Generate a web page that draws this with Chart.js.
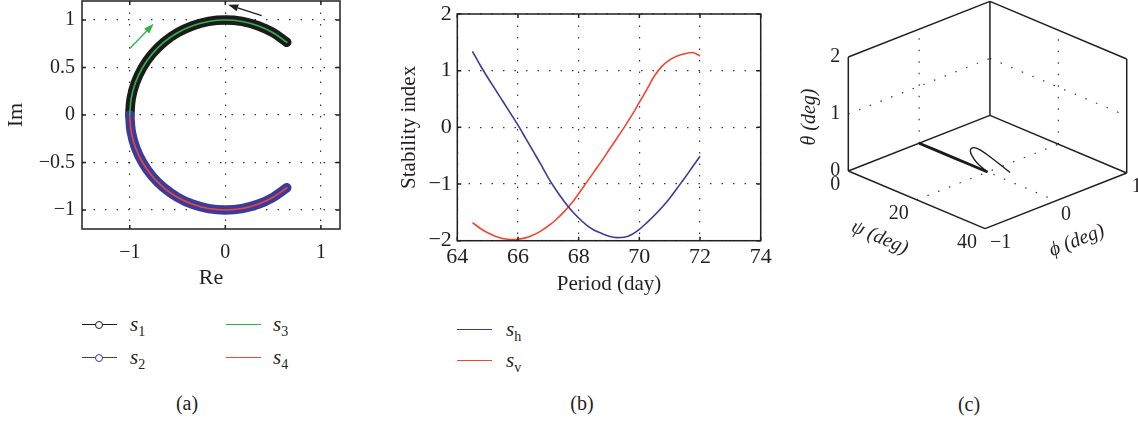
<!DOCTYPE html>
<html>
<head>
<meta charset="utf-8">
<script src="https://cdn.jsdelivr.net/npm/chart.js@4.4.1/dist/chart.umd.min.js"></script>
<style>
  body { margin: 0; background: #fff; width: 1138px; height: 421px; position: relative; overflow: hidden;
         font-family: 'Liberation Serif', 'Times New Roman', serif; color: #231f20; }
  canvas { position: absolute; top: 0; }
  .legend-item { position: absolute; height: 0; }
  .swatch { position: absolute; left: 0; top: -1px; width: 35px; height: 0; border-top: 1.5px solid; }
  .marker { position: absolute; left: 13px; top: -4.5px; width: 6px; height: 6px; border: 1.4px solid; border-radius: 50%; background: #fff; }
  .legend-label { position: absolute; top: -13px; line-height: 24px; font-size: 21px; font-style: italic; white-space: nowrap; }
  .legend-label sub { font-style: normal; font-size: 14px; vertical-align: -5px; }
  .caption { position: absolute; line-height: 24px; font-size: 20px; transform: translateX(-50%); }
</style>
</head>
<body>
<canvas id="chart-a" width="350" height="300" style="left:0"></canvas>
<canvas id="chart-b" width="400" height="300" style="left:380px"></canvas>
<canvas id="chart-c" width="348" height="300" style="left:790px"></canvas>
<div id="legends"></div>
<script>
// ===== Data: panel (a), eigenvalues on the unit circle =====
const upperArcRe = [-1, -0.985, -0.940, -0.866, -0.766, -0.643, -0.5, -0.342, -0.174, 0, 0.174, 0.342, 0.5, 0.643];
const upperArcIm = [0, 0.174, 0.342, 0.5, 0.643, 0.766, 0.866, 0.940, 0.985, 1, 0.985, 0.940, 0.866, 0.766];
const lowerArcRe = [-1, -0.985, -0.940, -0.866, -0.766, -0.643, -0.5, -0.342, -0.174, 0, 0.174, 0.342, 0.5, 0.643];
const lowerArcIm = [0, -0.174, -0.342, -0.5, -0.643, -0.766, -0.866, -0.940, -0.985, -1, -0.985, -0.940, -0.866, -0.766];
const greenArrowRe = [-1.0, -0.75];
const greenArrowIm = [0.70, 0.96];
const blackArrowRe = [0.38, 0.03];
const blackArrowIm = [1.045, 1.16];
const reTicks = [-1, 0, 1];
const reTickLabels = ['\u22121', '0', '1'];
const imTicks = [-1, -0.5, 0, 0.5, 1];
const imTickLabels = ['\u22121', '\u22120.5', '0', '0.5', '1'];

// ===== Data: panel (b), stability indices =====
const periodDays = [64.5, 64.75, 65, 65.25, 65.5, 65.75, 66, 66.25, 66.5, 66.75, 67, 67.25, 67.5, 67.75, 68, 68.25,
  68.5, 68.75, 69, 69.25, 69.5, 69.75, 70, 70.25, 70.5, 70.75, 71, 71.25, 71.5, 71.75, 72];
const stabilityH = [1.34, 1.10, 0.88, 0.67, 0.46, 0.25, 0.04, -0.19, -0.42, -0.65, -0.89, -1.10, -1.29, -1.46, -1.60, -1.72,
  -1.81, -1.87, -1.92, -1.945, -1.94, -1.89, -1.80, -1.68, -1.55, -1.41, -1.25, -1.07, -0.89, -0.70, -0.51];
const stabilityV = [-1.68, -1.78, -1.86, -1.92, -1.96, -1.98, -1.975, -1.95, -1.90, -1.83, -1.74, -1.63, -1.50, -1.35, -1.17, -0.98,
  -0.79, -0.60, -0.40, -0.20, 0.0, 0.21, 0.44, 0.67, 0.91, 1.08, 1.19, 1.26, 1.30, 1.32, 1.26];
const periodTicks = [64, 66, 68, 70, 72, 74];
const periodTickLabels = ['64', '66', '68', '70', '72', '74'];
const indexTicks = [-2, -1, 0, 1, 2];
const indexTickLabels = ['\u22122', '\u22121', '0', '1', '2'];

// ===== Data: panel (c), attitude angles =====
const pathPsi = [0, 5, 10, 15, 20];
const pathPhi = [0, 0, 0, 0, 0];
const pathTheta = [0, 0, 0, 0, 0];
const loopPsi = [20, 15.3, 11.6, 9.8, 9.2, 9.6, 11.0, 15.0, 19.2, 23.4];
const loopPhi = [0, 0.08, 0.18, 0.25, 0.30, 0.33, 0.33, 0.28, 0.22, 0.155];
const loopTheta = [0, 0, 0, 0, 0, 0, 0, 0, 0, 0];
const psiRange = [0, 40];
const phiRange = [-1, 1];
const thetaRange = [0, 2];
const psiTicks = [0, 20, 40];
const psiTickLabels = ['0', '20', '40'];
const phiTicks = [-1, 0, 1];
const phiTickLabels = ['\u22121', '0', '1'];
const thetaTicks = [0, 1, 2];
const thetaTickLabels = ['0', '1', '2'];

// ===== Styles =====
const INK = '#231f20';
const BAND_BLACK = '#1b1b1b';
const BAND_BLUE = '#3b3b9d';
const GREEN = '#33b24a';
const RED = '#f0462d';
const LINE_BLUE = '#3e3a9a';
const GRID_COLOR = '#3a3a3a';
const FONT = "'Liberation Serif', 'Times New Roman', serif";

Chart.defaults.font.family = FONT;
Chart.defaults.color = INK;

const toPoints = (xs, ys) => xs.map((x, i) => ({ x, y: ys[i] }));

function fixedTicks(values) {
  return (scale) => { scale.ticks = values.map((value) => ({ value })); };
}

function fixedSize(size) {
  return (scale) => {
    if (scale.isHorizontal()) scale.height = size; else scale.width = size;
    scale.paddingTop = 0;
    scale.paddingBottom = 0;
    scale.paddingLeft = 0;
    scale.paddingRight = 0;
  };
}

function axis(opts) {
  return {
    type: 'linear',
    min: opts.min,
    max: opts.max,
    afterBuildTicks: fixedTicks(opts.ticks),
    afterFit: fixedSize(opts.size),
    ticks: {
      callback: (value, index) => opts.labels[index],
      padding: opts.tickPadding,
      font: { size: opts.tickSize },
      maxRotation: 0,
      autoSkip: false,
    },
    grid: { color: GRID_COLOR, lineWidth: 1.2, drawTicks: false },
    border: { display: false, dash: [1.5, 10] },
    title: { display: true, text: opts.title, font: { size: opts.titleSize }, padding: opts.titlePadding },
  };
}

// box with inward ticks, drawn on top of the data
const framePlugin = {
  id: 'frame',
  afterDatasetsDraw(chart) {
    const { ctx, chartArea: { left, right, top, bottom }, scales: { x, y } } = chart;
    ctx.save();
    ctx.strokeStyle = INK;
    ctx.lineWidth = 1.5;
    ctx.beginPath();
    x.ticks.forEach((tick) => {
      const px = x.getPixelForValue(tick.value);
      ctx.moveTo(px, bottom); ctx.lineTo(px, bottom - 4);
      ctx.moveTo(px, top); ctx.lineTo(px, top + 4);
    });
    y.ticks.forEach((tick) => {
      const py = y.getPixelForValue(tick.value);
      ctx.moveTo(left, py); ctx.lineTo(left + 4, py);
      ctx.moveTo(right, py); ctx.lineTo(right - 4, py);
    });
    ctx.stroke();
    ctx.strokeRect(left, top, right - left, bottom - top);
    ctx.restore();
  },
};

const arrowPlugin = {
  id: 'arrows',
  afterDatasetsDraw(chart) {
    const { ctx, scales: { x, y } } = chart;
    const drawArrow = (res, ims, color) => {
      const x0 = x.getPixelForValue(res[0]);
      const y0 = y.getPixelForValue(ims[0]);
      const x1 = x.getPixelForValue(res[1]);
      const y1 = y.getPixelForValue(ims[1]);
      const angle = Math.atan2(y1 - y0, x1 - x0);
      const headLength = 10;
      const headHalf = 3.6;
      const bx = x1 - headLength * Math.cos(angle);
      const by = y1 - headLength * Math.sin(angle);
      ctx.save();
      ctx.strokeStyle = color;
      ctx.fillStyle = color;
      ctx.lineWidth = 1.3;
      ctx.beginPath();
      ctx.moveTo(x0, y0);
      ctx.lineTo(bx, by);
      ctx.stroke();
      ctx.beginPath();
      ctx.moveTo(x1, y1);
      ctx.lineTo(bx + headHalf * Math.sin(angle), by - headHalf * Math.cos(angle));
      ctx.lineTo(bx - headHalf * Math.sin(angle), by + headHalf * Math.cos(angle));
      ctx.closePath();
      ctx.fill();
      ctx.restore();
    };
    drawArrow(greenArrowRe, greenArrowIm, GREEN);
    drawArrow(blackArrowRe, blackArrowIm, INK);
  },
};

const baseOptions = {
  responsive: false,
  animation: false,
  devicePixelRatio: 1,
  events: [],
  elements: { point: { radius: 0 }, line: { tension: 0 } },
  plugins: { legend: { display: false }, tooltip: { enabled: false } },
};

// ===== Panel (a) =====
const arcLine = { tension: 0.35, borderCapStyle: 'round', borderJoinStyle: 'round' };
new Chart(document.getElementById('chart-a'), {
  type: 'line',
  data: {
    datasets: [
      { label: 's3', data: toPoints(upperArcRe, upperArcIm), borderColor: GREEN, borderWidth: 1.6, order: 0, ...arcLine },
      { label: 's4', data: toPoints(lowerArcRe, lowerArcIm), borderColor: RED, borderWidth: 1.6, order: 1, ...arcLine },
      { label: 's2', data: toPoints(lowerArcRe, lowerArcIm), borderColor: BAND_BLUE, borderWidth: 9.5, order: 2, ...arcLine },
      { label: 's1', data: toPoints(upperArcRe, upperArcIm), borderColor: BAND_BLACK, borderWidth: 9.5, order: 3, ...arcLine },
    ],
  },
  options: {
    ...baseOptions,
    layout: { padding: { left: 0, right: 10, top: 1, bottom: 0 } },
    scales: {
      x: axis({ min: -1.5, max: 1.2, ticks: reTicks, labels: reTickLabels, size: 71, tickPadding: 12,
        tickSize: 20, title: 'Re', titleSize: 22, titlePadding: { top: 0, bottom: 9 } }),
      y: axis({ min: -1.2, max: 1.2, ticks: imTicks, labels: imTickLabels, size: 82, tickPadding: 7,
        tickSize: 20, title: 'Im', titleSize: 22, titlePadding: { top: 3, bottom: 0 } }),
    },
  },
  plugins: [framePlugin, arrowPlugin],
});

// ===== Panel (b) =====
new Chart(document.getElementById('chart-b'), {
  type: 'line',
  data: {
    datasets: [
      { label: 'sh', data: toPoints(periodDays, stabilityH), borderColor: LINE_BLUE, borderWidth: 1.6,
        cubicInterpolationMode: 'monotone' },
      { label: 'sv', data: toPoints(periodDays, stabilityV), borderColor: RED, borderWidth: 1.6,
        cubicInterpolationMode: 'monotone' },
    ],
  },
  options: {
    ...baseOptions,
    layout: { padding: { left: 0, right: 19.3, top: 14, bottom: 0 } },
    scales: {
      x: axis({ min: 64, max: 74, ticks: periodTicks, labels: periodTickLabels, size: 59.3, tickPadding: 3,
        tickSize: 22, title: 'Period (day)', titleSize: 21, titlePadding: { top: 0, bottom: 3 } }),
      y: axis({ min: -2, max: 2, ticks: indexTicks, labels: indexTickLabels, size: 77.3, tickPadding: 5.5,
        tickSize: 22, title: 'Stability index', titleSize: 21, titlePadding: { top: 17, bottom: 0 } }),
    },
  },
  plugins: [framePlugin],
});

// ===== Panel (c): orthographic 3D view =====
const VIEW_AZ = 46 * Math.PI / 180;
const VIEW_EL = 24 * Math.PI / 180;
const BOX_ASPECT = [1, 1, 0.634];

function project(psi, phi, theta) {
  const a = (psi - psiRange[0]) / (psiRange[1] - psiRange[0]) * BOX_ASPECT[0];
  const b = (phi - phiRange[0]) / (phiRange[1] - phiRange[0]) * BOX_ASPECT[1];
  const c = (theta - thetaRange[0]) / (thetaRange[1] - thetaRange[0]) * BOX_ASPECT[2];
  return {
    x: a * Math.cos(VIEW_AZ) + b * Math.sin(VIEW_AZ),
    y: (b * Math.cos(VIEW_AZ) - a * Math.sin(VIEW_AZ)) * Math.sin(VIEW_EL) + c * Math.cos(VIEW_EL),
  };
}

const project3d = (psis, phis, thetas) => psis.map((psi, i) => project(psi, phis[i], thetas[i]));

const box3dPlugin = {
  id: 'box3d',
  beforeDatasetsDraw(chart) {
    const { ctx, scales: { x, y } } = chart;
    const toPx = (psi, phi, theta) => {
      const p = project(psi, phi, theta);
      return [x.getPixelForValue(p.x), y.getPixelForValue(p.y)];
    };
    const segment = (from, to) => {
      const p0 = toPx(...from);
      const p1 = toPx(...to);
      ctx.moveTo(p0[0], p0[1]);
      ctx.lineTo(p1[0], p1[1]);
    };
    const [psiLo, psiHi] = psiRange;
    const [phiLo, phiHi] = phiRange;
    const [thLo, thHi] = thetaRange;

    ctx.save();
    // dotted grid on the floor and the two back walls
    ctx.strokeStyle = GRID_COLOR;
    ctx.lineWidth = 1.2;
    ctx.setLineDash([1.5, 10]);
    ctx.beginPath();
    psiTicks.slice(1, -1).forEach((v) => {
      segment([v, phiLo, thLo], [v, phiHi, thLo]);
      segment([v, phiHi, thLo], [v, phiHi, thHi]);
    });
    phiTicks.slice(1, -1).forEach((v) => {
      segment([psiLo, v, thLo], [psiHi, v, thLo]);
      segment([psiLo, v, thLo], [psiLo, v, thHi]);
    });
    thetaTicks.slice(1, -1).forEach((v) => {
      segment([psiLo, phiLo, v], [psiLo, phiHi, v]);
      segment([psiLo, phiHi, v], [psiHi, phiHi, v]);
    });
    ctx.stroke();

    // box edges
    ctx.setLineDash([]);
    ctx.strokeStyle = INK;
    ctx.lineWidth = 1.5;
    ctx.beginPath();
    segment([psiLo, phiLo, thLo], [psiHi, phiLo, thLo]);
    segment([psiHi, phiLo, thLo], [psiHi, phiHi, thLo]);
    segment([psiLo, phiLo, thLo], [psiLo, phiHi, thLo]);
    segment([psiLo, phiHi, thLo], [psiHi, phiHi, thLo]);
    segment([psiLo, phiLo, thLo], [psiLo, phiLo, thHi]);
    segment([psiLo, phiHi, thLo], [psiLo, phiHi, thHi]);
    segment([psiHi, phiHi, thLo], [psiHi, phiHi, thHi]);
    segment([psiLo, phiLo, thHi], [psiLo, phiHi, thHi]);
    segment([psiLo, phiHi, thHi], [psiHi, phiHi, thHi]);
    ctx.stroke();

    // tick labels
    ctx.fillStyle = INK;
    ctx.font = `20px ${FONT}`;
    ctx.textBaseline = 'middle';
    ctx.textAlign = 'right';
    thetaTicks.forEach((v, i) => {
      const [px, py] = toPx(psiLo, phiLo, v);
      ctx.fillText(thetaTickLabels[i], px - 8, py);
    });
    psiTicks.forEach((v, i) => {
      const [px, py] = toPx(v, phiLo, thLo);
      ctx.fillText(psiTickLabels[i], px - 8, py + 14);
    });
    ctx.textAlign = 'left';
    phiTicks.forEach((v, i) => {
      const [px, py] = toPx(psiHi, v, thLo);
      ctx.fillText(phiTickLabels[i], px + 5, py + 14);
    });

    // axis titles
    ctx.font = `italic 20px ${FONT}`;
    ctx.textAlign = 'center';
    const drawTitle = (text, anchor, dx, dy, angle) => {
      ctx.save();
      ctx.translate(anchor[0] + dx, anchor[1] + dy);
      ctx.rotate(angle);
      ctx.fillText(text, 0, 0);
      ctx.restore();
    };
    const psiStart = toPx(psiLo, phiLo, thLo);
    const psiEnd = toPx(psiHi, phiLo, thLo);
    const phiEnd = toPx(psiHi, phiHi, thLo);
    const psiAngle = Math.atan2(psiEnd[1] - psiStart[1], psiEnd[0] - psiStart[0]);
    const phiAngle = Math.atan2(phiEnd[1] - psiEnd[1], phiEnd[0] - psiEnd[0]);
    drawTitle('\u03b8 (deg)', toPx(psiLo, phiLo, (thLo + thHi) / 2), -39, 3, -Math.PI / 2);
    drawTitle('\u03c8 (deg)', toPx((psiLo + psiHi) / 2, phiLo, thLo), -37, 38, psiAngle);
    drawTitle('\u03d5 (deg)', toPx(psiHi, (phiLo + phiHi) / 2, thLo), 21, 40, phiAngle);
    ctx.restore();
  },
};

new Chart(document.getElementById('chart-c'), {
  type: 'scatter',
  data: {
    datasets: [
      { data: project3d(pathPsi, pathPhi, pathTheta), showLine: true, borderColor: BAND_BLACK, borderWidth: 2.8 },
      { data: project3d(loopPsi, loopPhi, loopTheta), showLine: true, borderColor: BAND_BLACK, borderWidth: 1.3, tension: 0.4 },
    ],
  },
  options: {
    ...baseOptions,
    layout: { padding: 0 },
    scales: {
      x: { type: 'linear', display: false, min: -0.2961, max: 1.4713 },
      y: { type: 'linear', display: false, min: -0.6552, max: 0.8685 },
    },
  },
  plugins: [box3dPlugin],
});

// ===== Legends and captions =====
const legendEntries = [
  { sub: '1', color: BAND_BLACK, marker: true, left: 82, top: 325, gap: 48 },
  { sub: '2', color: BAND_BLUE, marker: true, left: 82, top: 358, gap: 48 },
  { sub: '3', color: GREEN, marker: false, left: 226, top: 325, gap: 47 },
  { sub: '4', color: RED, marker: false, left: 226, top: 358, gap: 47 },
  { sub: 'h', color: LINE_BLUE, marker: false, left: 457, top: 330, gap: 49 },
  { sub: 'v', color: RED, marker: false, left: 457, top: 361, gap: 49 },
];
const captions = [
  { text: '(a)', x: 187, y: 403 },
  { text: '(b)', x: 582, y: 403 },
  { text: '(c)', x: 969, y: 404 },
];

const legendRoot = document.getElementById('legends');
legendEntries.forEach((entry) => {
  const item = document.createElement('div');
  item.className = 'legend-item';
  item.style.left = `${entry.left}px`;
  item.style.top = `${entry.top}px`;
  item.innerHTML = `<div class="swatch" style="border-color:${entry.color}"></div>`
    + (entry.marker ? `<div class="marker" style="border-color:${entry.color}"></div>` : '')
    + `<div class="legend-label" style="left:${entry.gap}px">s<sub>${entry.sub}</sub></div>`;
  legendRoot.appendChild(item);
});
captions.forEach((caption) => {
  const node = document.createElement('div');
  node.className = 'caption';
  node.style.left = `${caption.x}px`;
  node.style.top = `${caption.y - 12}px`;
  node.textContent = caption.text;
  legendRoot.appendChild(node);
});
</script>
</body>
</html>
